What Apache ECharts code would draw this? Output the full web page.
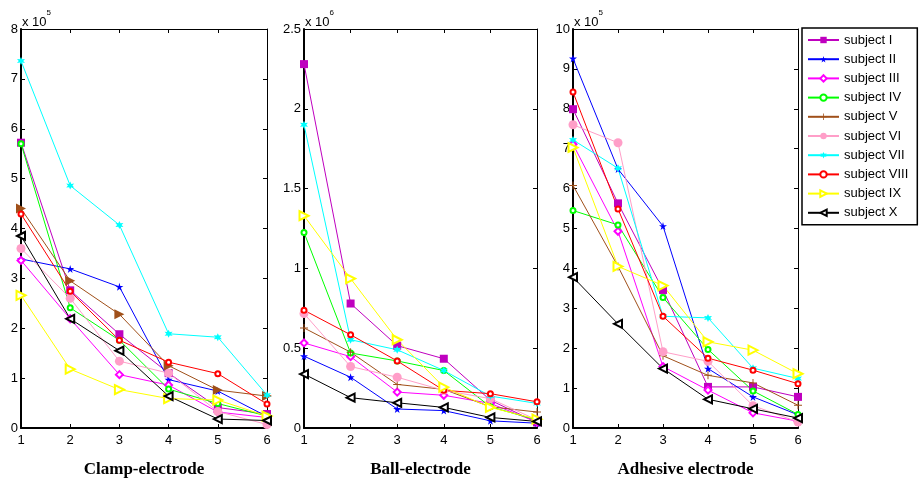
<!DOCTYPE html>
<html>
<head>
  <meta http-equiv="Content-Type" content="text/html; charset=utf-8"/>
  <title>Electrode comparison</title>
  <script src="https://cdn.jsdelivr.net/npm/echarts@6.0.0/dist/echarts.min.js"></script>
</head>
<body style="margin:0;padding:0;background:#fff">
<div id="main" style="width:919px;height:483px;"></div>

<script type="text/javascript">
// x positions (measurement index)
var xs = ['1', '2', '3', '4', '5', '6'];
var names = ['subject I', 'subject II', 'subject III', 'subject IV', 'subject V',
             'subject VI', 'subject VII', 'subject VIII', 'subject IX', 'subject X'];
var titles = ['Clamp-electrode', 'Ball-electrode', 'Adhesive electrode'];
var scales = ['5', '6', '5'];

// clamp electrode, x 10^5
var clamp = [
  [5.72, 2.76, 1.88, 1.10, 0.41, 0.28],
  [3.39, 3.19, 2.83, 0.97, 0.74, 0.23],
  [3.36, 2.19, 1.07, 0.86, 0.32, 0.21],
  [5.70, 2.41, 1.76, 0.78, 0.49, 0.24],
  [4.40, 2.95, 2.28, 1.25, 0.76, 0.64],
  [3.60, 2.60, 1.34, 1.10, 0.33, 0.07],
  [7.36, 4.86, 4.07, 1.89, 1.82, 0.66],
  [4.29, 2.74, 1.76, 1.32, 1.09, 0.48],
  [2.66, 1.18, 0.77, 0.59, 0.56, 0.24],
  [3.85, 2.19, 1.55, 0.64, 0.18, 0.15]
];
// ball electrode, x 10^6
var ball = [
  [2.28, 0.78, 0.516, 0.434, 0.174, 0.035],
  [0.45, 0.318, 0.119, 0.109, 0.045, 0.03],
  [0.533, 0.447, 0.225, 0.205, 0.154, 0.037],
  [1.225, 0.47, 0.42, 0.36, 0.133, 0.05],
  [0.627, 0.475, 0.273, 0.242, 0.133, 0.10],
  [0.717, 0.385, 0.318, 0.236, 0.184, 0.05],
  [1.90, 0.553, 0.49, 0.36, 0.20, 0.154],
  [0.738, 0.584, 0.42, 0.236, 0.215, 0.164],
  [1.33, 0.936, 0.553, 0.256, 0.129, 0.055],
  [0.338, 0.19, 0.158, 0.129, 0.066, 0.041]
];
// adhesive electrode, x 10^5
var adhesive = [
  [7.99, 5.63, 3.46, 1.03, 1.03, 0.78],
  [9.26, 6.49, 5.06, 1.49, 0.78, 0.33],
  [7.11, 4.93, 1.54, 0.95, 0.38, 0.17],
  [5.45, 5.09, 3.27, 1.97, 0.93, 0.34],
  [6.08, 4.05, 1.81, 1.32, 1.13, 0.57],
  [7.60, 7.15, 1.91, 1.67, 0.56, 0.15],
  [7.22, 6.51, 2.80, 2.76, 1.50, 1.24],
  [8.42, 5.49, 2.80, 1.75, 1.45, 1.11],
  [7.03, 4.05, 3.57, 2.16, 1.95, 1.36],
  [3.78, 2.61, 1.49, 0.72, 0.48, 0.25]
];
var yMax = [8, 2.5, 10];
var yStep = [1, 0.5, 1];

var colors = ['#bf00bf', '#0000ff', '#ff00ff', '#00ff00', '#a0501a',
              '#ff9ec8', '#00ffff', '#ff0000', '#ffff00', '#000000'];

var star5 = 'path://M50,0L61,35L98,35L68,57L79,91L50,70L21,91L32,57L2,35L39,35Z';
var star6 = 'path://M50,0L62,29L93,25L74,50L93,75L62,71L50,100L38,71L7,75L26,50L7,25L38,29Z';
var plus = 'path://M44,0L56,0L56,44L100,44L100,56L56,56L56,100L44,100L44,56L0,56L0,44L44,44Z';
var marks = [
  {symbol: 'rect', size: 8, rot: 0},
  {symbol: star5, size: 8, rot: 0},
  {symbol: 'emptyDiamond', size: 7, rot: 0},
  {symbol: 'emptyCircle', size: 5, rot: 0},
  {symbol: plus, size: 8, rot: 0},
  {symbol: 'circle', size: 9, rot: 0},
  {symbol: star6, size: 8, rot: 0},
  {symbol: 'emptyCircle', size: 5, rot: 0},
  {symbol: 'emptyTriangle', size: 9, rot: -90},
  {symbol: 'emptyTriangle', size: 8, rot: 90}
];

var grids = [
  {left: 21, top: 29, width: 246, height: 406},
  {left: 304, top: 29, width: 233, height: 406},
  {left: 573, top: 29, width: 225, height: 405}
];

var font = 'Liberation Sans';
var xAxes = [], yAxes = [], series = [], graphics = [];
var panels = [clamp, ball, adhesive];

for (var p = 0; p < 3; p++) {
  xAxes.push({
    type: 'category', gridIndex: p, data: xs, boundaryGap: false, position: 'bottom',
    axisLine: {onZero: false, lineStyle: {color: '#000', width: 2}},
    axisTick: {inside: true, length: 4, lineStyle: {color: '#000'}},
    axisLabel: {color: '#000', fontSize: 13, fontFamily: font, margin: 6},
    name: titles[p], nameLocation: 'middle', nameGap: 33,
    nameTextStyle: {color: '#000', fontSize: 17, fontWeight: 'bold', fontFamily: 'Liberation Serif'}
  });
  xAxes.push({
    type: 'category', gridIndex: p, data: xs, boundaryGap: false, position: 'top',
    axisLine: {onZero: false, lineStyle: {color: '#000', width: 1}},
    axisTick: {inside: true, length: 4, lineStyle: {color: '#000'}},
    axisLabel: {show: false}
  });
  yAxes.push({
    type: 'value', gridIndex: p, min: 0, max: yMax[p], interval: yStep[p], position: 'left',
    axisLine: {show: true, onZero: false, lineStyle: {color: '#000', width: 2}},
    axisTick: {show: true, inside: true, length: 4, lineStyle: {color: '#000'}},
    axisLabel: {color: '#000', fontSize: 13, fontFamily: font, margin: 3},
    splitLine: {show: false}
  });
  yAxes.push({
    type: 'value', gridIndex: p, min: 0, max: yMax[p], interval: yStep[p], position: 'right',
    axisLine: {show: true, onZero: false, lineStyle: {color: '#000', width: 1}},
    axisTick: {show: true, inside: true, length: 4, lineStyle: {color: '#000'}},
    axisLabel: {show: false},
    splitLine: {show: false}
  });

  for (var i = 0; i < names.length; i++) {
    var m = marks[i];
    var vals = panels[p][i];
    var data = vals;
    // brown series in the clamp panel uses filled right triangles
    if (p === 0 && i === 4) {
      data = vals.map(function (v) {
        return {value: v, symbol: 'triangle', symbolRotate: -90, symbolSize: 10};
      });
    }
    series.push({
      type: 'line', name: names[i], xAxisIndex: p * 2, yAxisIndex: p * 2,
      data: data, color: colors[i],
      symbol: m.symbol, symbolSize: m.size, symbolRotate: m.rot,
      lineStyle: {width: 1, color: colors[i]},
      itemStyle: {borderWidth: 1},
      animation: false
    });
  }

  graphics.push({
    type: 'text', left: grids[p].left + 1, top: 9,
    style: {
      text: '{a|x 10}{b|' + scales[p] + '}',
      rich: {
        a: {fontSize: 13, fontFamily: font, fill: '#000', verticalAlign: 'bottom', lineHeight: 20},
        b: {fontSize: 8, fontFamily: font, fill: '#000', verticalAlign: 'top', lineHeight: 20}
      }
    }
  });
}

var chart = echarts.init(document.getElementById('main'));
chart.setOption({
  backgroundColor: '#fff',
  grid: grids,
  xAxis: xAxes,
  yAxis: yAxes,
  series: series,
  graphic: graphics,
  legend: {
    data: names, orient: 'vertical', left: 802, top: 28,
    backgroundColor: '#fff', borderColor: '#000', borderWidth: 1.5,
    padding: [5, 9, 5, 5], itemWidth: 31, itemHeight: 8, itemGap: 5.2,
    textStyle: {color: '#000', fontSize: 13, fontFamily: font, lineHeight: 14}
  }
});
</script>
</body>
</html>
